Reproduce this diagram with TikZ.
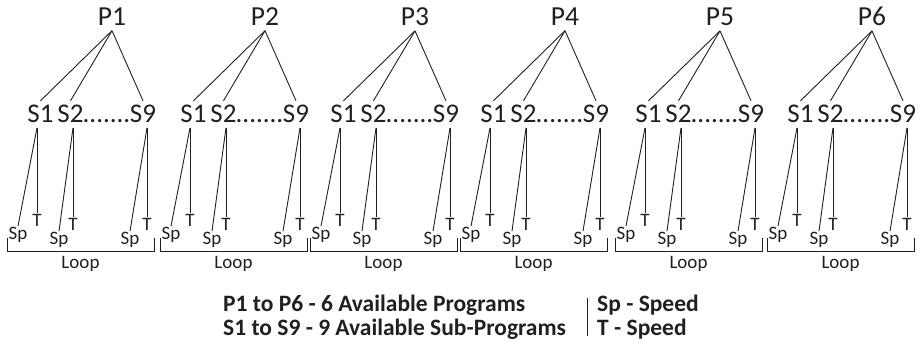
\documentclass[tikz,border=0pt]{standalone}
\usepackage{fontspec}
\setmainfont{Carlito}
\usetikzlibrary{calc}
\definecolor{ink}{RGB}{35,31,32}
\begin{document}
\begin{tikzpicture}[x=1pt,y=-1pt,
  every node/.style={inner sep=0pt, text=ink},
  line/.style={draw=ink, line width=0.9pt},
  plabel/.style={font=\fontsize{27.5}{30}\selectfont, inner ysep=5pt, anchor=base},
  slabel/.style={font=\fontsize{27}{30}\selectfont, inner ysep=4.5pt, anchor=base},
  small/.style={font=\fontsize{19}{21}\selectfont, inner ysep=0.8pt, anchor=base},
  looplabel/.style={font=\fontsize{19}{21}\selectfont, anchor=base},
  legend/.style={font=\fontsize{23.5}{26}\selectfont\bfseries, anchor=base west}]
\useasboundingbox (0,0) rectangle (924,342);
\foreach \i/\A in {1/112,2/265,3/415,4/565,5/720,6/872}{
  \node[plabel] (p\i) at (\A,25.5) {P\i};
  \node[slabel] (p\i-s1) at (\A-71.5,123) {S1};
  \node[slabel] (p\i-s2) at (\A-41.5,123) {S2};
  \node[slabel] (p\i-s9) at (\A+31,123) {S9};
  \node[slabel] (p\i-dots) at (\A-5.5,123) {.......};
  \node[small] (p\i-t1) at (\A-75,226) {T};
  \node[small] (p\i-t2) at (\A-39,230) {T};
  \node[small] (p\i-t9) at (\A+35,230) {T};
  \node[small] (p\i-sp1) at (\A-94,239.5) {Sp};
  \node[small] (p\i-sp2) at (\A-53,244.5) {Sp};
  \node[small] (p\i-sp9) at (\A+18,244.5) {Sp};
  \draw[line] (p\i.south) -- (p\i-s1.north);
  \draw[line] (p\i.south) -- (p\i-s2.north);
  \draw[line] (p\i.south) -- (p\i-s9.north);
  \foreach \k in {1,2,9}{
    \draw[line] (p\i-s\k.south -| p\i-t\k.north) -- (p\i-t\k.north);
    \draw[line] (p\i-s\k.south -| p\i-t\k.north) -- (p\i-sp\k.north);
  }
  \coordinate (p\i-bl) at (\A-105,238);
  \coordinate (p\i-br) at (\A+42,238);
  \draw[line] (p\i-bl) -- ++(0,13) -| (p\i-br);
  \node[looplabel] (p\i-loop) at (\A-31.5,268) {Loop};
}
\node[legend] (l1) at (223,311) {P1 to P6 - 6 Available Programs};
\node[legend] (l2) at (223,335) {S1 to S9 - 9 Available Sub-Programs};
\node[legend] (l3) at (597,311) {Sp - Speed};
\node[legend] (l4) at (597,335) {T - Speed};
\coordinate (bartop) at (587,298);
\coordinate (barbot) at (587,336);
\draw[line] (bartop) -- (barbot);
\end{tikzpicture}
\end{document}
